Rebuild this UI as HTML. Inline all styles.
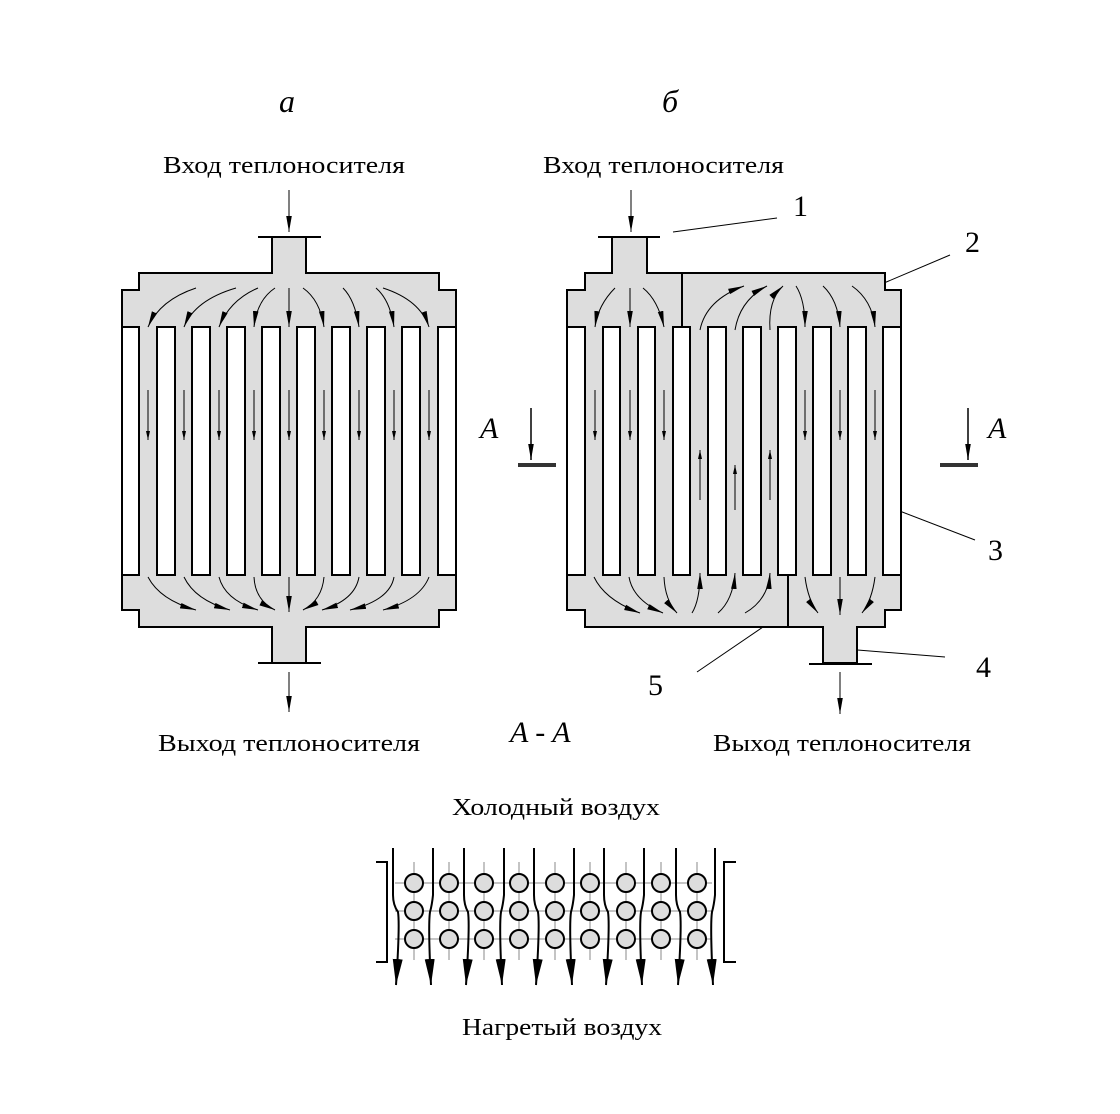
<!DOCTYPE html>
<html><head><meta charset="utf-8"><style>body{margin:0;background:#fff}svg{display:block}</style></head><body>
<svg width="1120" height="1114" viewBox="0 0 1120 1114" xmlns="http://www.w3.org/2000/svg" font-family="'Liberation Serif',serif">
<defs>
<marker id="ah" viewBox="0 0 10 10" preserveAspectRatio="none" refX="10" refY="5" markerWidth="16" markerHeight="7" markerUnits="userSpaceOnUse" orient="auto"><path d="M0,1 L10,5 L0,9 Z" fill="#000"/></marker>
<marker id="as" viewBox="0 0 10 10" preserveAspectRatio="none" refX="10" refY="5" markerWidth="9" markerHeight="5" markerUnits="userSpaceOnUse" orient="auto"><path d="M0,1 L10,5 L0,9 Z" fill="#000"/></marker>
<marker id="ab" viewBox="0 0 10 10" preserveAspectRatio="none" refX="10" refY="5" markerWidth="26" markerHeight="10" markerUnits="userSpaceOnUse" orient="auto"><path d="M0,0 L10,5 L0,10 Z" fill="#000"/></marker>
</defs>
<g fill="#000" font-size="24">
<text x="287" y="112" font-style="italic" font-size="32" text-anchor="middle">a</text>
<text x="670" y="112" font-style="italic" font-size="32" text-anchor="middle">б</text>
<text x="163" y="173" textLength="242" lengthAdjust="spacingAndGlyphs">Вход теплоносителя</text>
<text x="543" y="173" textLength="241" lengthAdjust="spacingAndGlyphs">Вход теплоносителя</text>
<text x="158" y="751" textLength="262" lengthAdjust="spacingAndGlyphs">Выход теплоносителя</text>
<text x="713" y="751" textLength="258" lengthAdjust="spacingAndGlyphs">Выход теплоносителя</text>
<text x="510" y="742" font-style="italic" font-size="30">A - A</text>
<text x="480" y="438" font-style="italic" font-size="30">A</text>
<text x="988" y="438" font-style="italic" font-size="30">A</text>
<text x="452" y="815" textLength="208" lengthAdjust="spacingAndGlyphs">Холодный воздух</text>
<text x="462" y="1035" textLength="200" lengthAdjust="spacingAndGlyphs">Нагретый воздух</text>
<text x="793" y="216" font-size="30">1</text>
<text x="965" y="252" font-size="30">2</text>
<text x="988" y="560" font-size="30">3</text>
<text x="976" y="677" font-size="30">4</text>
<text x="648" y="695" font-size="30">5</text>
</g>
<g stroke="#000" stroke-width="1" fill="none">
<line x1="673" y1="232" x2="777" y2="218"/>
<line x1="884" y1="283" x2="950" y2="255"/>
<line x1="884" y1="505" x2="975" y2="540"/>
<line x1="845" y1="649" x2="945" y2="657"/>
<line x1="697" y1="672" x2="785" y2="612"/>
</g>
<g stroke="#000">
<line x1="531" y1="408" x2="531" y2="460" marker-end="url(#ah)" stroke-width="1.5"/>
<line x1="518" y1="465" x2="556" y2="465" stroke-width="4" stroke="#333"/>
<line x1="968" y1="408" x2="968" y2="460" marker-end="url(#ah)" stroke-width="1.5"/>
<line x1="940" y1="465" x2="978" y2="465" stroke-width="4" stroke="#333"/>
</g>
<path d="M139,273 H272 V237 H306 V273 H439 V290 H456 V610 H439 V627 H306 V663 H272 V627 H139 V610 H122 V290 H139 Z" fill="#ddd" stroke="#000" stroke-width="2"/>
<g stroke="#000" stroke-width="2"><line x1="258" y1="237" x2="321" y2="237"/><line x1="258" y1="663" x2="321" y2="663"/></g>
<g fill="#fff" stroke="#000" stroke-width="2">
<rect x="122" y="327" width="17" height="248"/><rect x="157" y="327" width="18" height="248"/><rect x="192" y="327" width="18" height="248"/><rect x="227" y="327" width="18" height="248"/><rect x="262" y="327" width="18" height="248"/><rect x="297" y="327" width="18" height="248"/><rect x="332" y="327" width="18" height="248"/><rect x="367" y="327" width="18" height="248"/><rect x="402" y="327" width="18" height="248"/><rect x="438" y="327" width="18" height="248"/>
</g>
<g stroke="#000" stroke-width="1" fill="none" marker-end="url(#ah)">
<line x1="289" y1="190" x2="289" y2="232"/>
<line x1="289" y1="672" x2="289" y2="712"/>
<path d="M196,288 Q160,300 148,327"/><path d="M236,288 Q195,300 184,327"/><path d="M258,288 Q230,300 219,327"/><path d="M275,288 Q257,300 254,327"/><path d="M289,288 L289,327"/><path d="M303,288 Q320,300 324,327"/><path d="M343,288 Q355,300 359,327"/><path d="M376,288 Q390,300 394,327"/><path d="M383,288 Q420,300 429,327"/>
<path d="M148,577 Q160,600 196,610"/><path d="M184,577 Q195,600 230,610"/><path d="M219,577 Q225,600 258,610"/><path d="M254,577 Q255,600 275,610"/><path d="M289,577 L289,612"/><path d="M324,577 Q322,600 303,610"/><path d="M359,577 Q355,600 322,610"/><path d="M394,577 Q390,600 350,610"/><path d="M429,577 Q420,600 383,610"/>
</g>
<g stroke="#000" stroke-width="1" marker-end="url(#as)">
<line x1="148" y1="390" x2="148" y2="440"/><line x1="184" y1="390" x2="184" y2="440"/><line x1="219" y1="390" x2="219" y2="440"/><line x1="254" y1="390" x2="254" y2="440"/><line x1="289" y1="390" x2="289" y2="440"/><line x1="324" y1="390" x2="324" y2="440"/><line x1="359" y1="390" x2="359" y2="440"/><line x1="394" y1="390" x2="394" y2="440"/><line x1="429" y1="390" x2="429" y2="440"/>
</g>
<path d="M585,273 H612 V237 H647 V273 H885 V290 H901 V610 H885 V627 H857 V663 H823 V627 H585 V610 H567 V290 H585 Z" fill="#ddd" stroke="#000" stroke-width="2"/>
<g stroke="#000" stroke-width="2"><line x1="598" y1="237" x2="660" y2="237"/><line x1="809" y1="664" x2="872" y2="664"/><line x1="682" y1="273" x2="682" y2="327"/><line x1="788" y1="575" x2="788" y2="627"/></g>
<g fill="#fff" stroke="#000" stroke-width="2">
<rect x="567" y="327" width="18" height="248"/><rect x="603" y="327" width="17" height="248"/><rect x="638" y="327" width="17" height="248"/><rect x="673" y="327" width="17" height="248"/><rect x="708" y="327" width="18" height="248"/><rect x="743" y="327" width="18" height="248"/><rect x="778" y="327" width="18" height="248"/><rect x="813" y="327" width="18" height="248"/><rect x="848" y="327" width="18" height="248"/><rect x="883" y="327" width="18" height="248"/>
</g>
<g stroke="#000" stroke-width="1" fill="none" marker-end="url(#ah)">
<line x1="631" y1="190" x2="631" y2="232"/>
<line x1="840" y1="672" x2="840" y2="714"/>
<path d="M615,288 Q598,305 595,327"/><path d="M630,288 L630,327"/><path d="M643,288 Q658,300 664,327"/>
<path d="M700,330 Q706,300 744,286"/><path d="M735,330 Q740,300 767,286"/><path d="M770,330 Q768,300 783,286"/>
<path d="M796,286 Q805,300 805,327"/><path d="M823,286 Q838,300 840,327"/><path d="M852,286 Q872,300 875,327"/>
<path d="M594,577 Q605,600 640,613"/><path d="M629,577 Q633,600 663,613"/><path d="M664,577 Q665,600 677,613"/>
<path d="M692,613 Q700,600 700,573"/><path d="M718,613 Q733,600 735,573"/><path d="M745,613 Q768,600 770,573"/>
<path d="M805,577 Q808,600 818,613"/><path d="M840,577 L840,615"/><path d="M875,577 Q872,600 862,613"/>
</g>
<g stroke="#000" stroke-width="1" marker-end="url(#as)">
<line x1="595" y1="390" x2="595" y2="440"/><line x1="630" y1="390" x2="630" y2="440"/><line x1="664" y1="390" x2="664" y2="440"/>
<line x1="700" y1="500" x2="700" y2="450"/><line x1="735" y1="510" x2="735" y2="465"/><line x1="770" y1="500" x2="770" y2="450"/>
<line x1="805" y1="390" x2="805" y2="440"/><line x1="840" y1="390" x2="840" y2="440"/><line x1="875" y1="390" x2="875" y2="440"/>
</g>
<g stroke="#888" stroke-width="1">
<line x1="395" y1="883" x2="712" y2="883"/><line x1="395" y1="911" x2="712" y2="911"/><line x1="395" y1="939" x2="712" y2="939"/>
<line x1="414" y1="862" x2="414" y2="960"/><line x1="449" y1="862" x2="449" y2="960"/><line x1="484" y1="862" x2="484" y2="960"/><line x1="519" y1="862" x2="519" y2="960"/><line x1="555" y1="862" x2="555" y2="960"/><line x1="590" y1="862" x2="590" y2="960"/><line x1="626" y1="862" x2="626" y2="960"/><line x1="661" y1="862" x2="661" y2="960"/><line x1="697" y1="862" x2="697" y2="960"/>
</g>
<g fill="#ddd" stroke="#000" stroke-width="2">
<circle cx="414" cy="883" r="9"/><circle cx="449" cy="883" r="9"/><circle cx="484" cy="883" r="9"/><circle cx="519" cy="883" r="9"/><circle cx="555" cy="883" r="9"/><circle cx="590" cy="883" r="9"/><circle cx="626" cy="883" r="9"/><circle cx="661" cy="883" r="9"/><circle cx="697" cy="883" r="9"/>
<circle cx="414" cy="911" r="9"/><circle cx="449" cy="911" r="9"/><circle cx="484" cy="911" r="9"/><circle cx="519" cy="911" r="9"/><circle cx="555" cy="911" r="9"/><circle cx="590" cy="911" r="9"/><circle cx="626" cy="911" r="9"/><circle cx="661" cy="911" r="9"/><circle cx="697" cy="911" r="9"/>
<circle cx="414" cy="939" r="9"/><circle cx="449" cy="939" r="9"/><circle cx="484" cy="939" r="9"/><circle cx="519" cy="939" r="9"/><circle cx="555" cy="939" r="9"/><circle cx="590" cy="939" r="9"/><circle cx="626" cy="939" r="9"/><circle cx="661" cy="939" r="9"/><circle cx="697" cy="939" r="9"/>
</g>
<g stroke="#000" stroke-width="2" fill="none" marker-end="url(#ab)">
<path d="M393,848 V895 Q393,905 398,912 Q400,925 396,985"/>
<path d="M433,848 V895 Q432,905 430,912 Q428,925 431,985"/>
<path d="M464,848 V895 Q464,905 468,912 Q470,925 466,985"/>
<path d="M504,848 V895 Q503,905 501,912 Q499,925 502,985"/>
<path d="M534,848 V895 Q534,905 538,912 Q540,925 536,985"/>
<path d="M574,848 V895 Q573,905 571,912 Q569,925 572,985"/>
<path d="M604,848 V895 Q604,905 608,912 Q610,925 606,985"/>
<path d="M644,848 V895 Q643,905 641,912 Q639,925 642,985"/>
<path d="M676,848 V895 Q676,905 680,912 Q682,925 678,985"/>
<path d="M715,848 V895 Q714,905 712,912 Q710,925 713,985"/>
</g>
<g stroke="#000" stroke-width="2" fill="none">
<path d="M376,862 H387 V962 H376"/>
<path d="M736,862 H724 V962 H736"/>
</g>
</svg>
</body></html>
